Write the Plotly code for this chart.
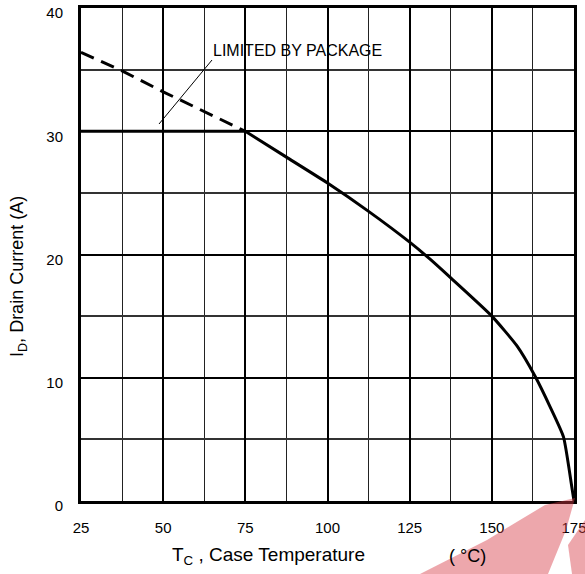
import plotly.graph_objects as go

# ---- data ----
tc_solid = [75, 87.5, 100, 112.5, 125, 131.3, 137.5, 150, 157.6, 163.2, 167.8, 171.8, 174.3, 175]
id_solid = [30.0, 27.9, 25.8, 23.5, 21.0, 19.6, 18.1, 15.0, 12.6, 10.1, 7.6, 5.2, 1.2, 0.0]

tc_dash = [25, 37.5, 50, 62.5, 75]
id_dash = [36.4, 34.9, 33.2, 31.6, 30.0]

tc_pkg = [25, 75]
id_pkg = [30, 30]

x_ticks = [25, 50, 75, 100, 125, 150, 175]
y_ticks = [0, 10, 20, 30, 40]

FONT = "Liberation Sans, Arial, sans-serif"

W, H = 585, 574
L, R, T, B = 81, 11, 8, 73
PW, PH = W - L - R, H - T - B


def px(xp):
    return (xp - L) / PW


def py(yp):
    return (H - B - yp) / PH


fig = go.Figure()

fig.add_trace(go.Scatter(x=tc_dash, y=id_dash, mode="lines",
                         line=dict(color="black", width=3, dash="14px,8px"),
                         hoverinfo="skip", showlegend=False))
fig.add_trace(go.Scatter(x=tc_pkg, y=id_pkg, mode="lines",
                         line=dict(color="black", width=3),
                         hoverinfo="skip", showlegend=False))
fig.add_trace(go.Scatter(x=tc_solid, y=id_solid, mode="lines",
                         line=dict(color="black", width=3, shape="spline", smoothing=0.5),
                         hoverinfo="skip", showlegend=False))

axis_common = dict(showline=True, linecolor="black", linewidth=3, mirror=True,
                   ticks="", zeroline=False, showgrid=True, gridcolor="black",
                   ticklabeloverflow="allow", automargin=False,
                   tickfont=dict(family=FONT, size=15, color="black"))

fig.update_xaxes(range=[25, 175], tickvals=x_ticks, gridwidth=2,
                 minor=dict(dtick=12.5, tick0=25, showgrid=True, gridcolor="#222", gridwidth=1.3),
                 ticklabelstandoff=11, **axis_common)
fig.update_yaxes(range=[0, 40], tickvals=y_ticks, gridwidth=1.8,
                 minor=dict(dtick=5, tick0=0, showgrid=True, gridcolor="#333", gridwidth=1.6),
                 ticklabelstandoff=12, ticklabelshift=5, **axis_common)

shapes = []
# white box behind the label
shapes.append(dict(type="rect", xref="paper", yref="paper",
                   x0=px(207), x1=px(410), y0=py(60), y1=py(33),
                   fillcolor="white", line=dict(width=0), layer="between"))
# leader line
shapes.append(dict(type="line", xref="paper", yref="paper",
                   x0=px(212), y0=py(60), x1=px(159), y1=py(124),
                   line=dict(color="black", width=1)))
# watermark approximation
wm1 = [(420, 574), (487, 540), (520, 520), (545, 505), (575, 498), (566, 530), (548, 574)]
wm2 = [(568, 545), (585, 520), (585, 574), (572, 574)]
for poly in (wm1, wm2):
    path = "M " + " L ".join(f"{px(a)},{py(b)}" for a, b in poly) + " Z"
    shapes.append(dict(type="path", xref="paper", yref="paper", path=path,
                       fillcolor="rgba(215,60,70,0.45)", line=dict(width=0), layer="above"))

annotations = [
    dict(text="LIMITED BY PACKAGE", xref="paper", yref="paper", x=px(211), y=py(50),
         xanchor="left", yanchor="middle", showarrow=False,
         font=dict(family=FONT, size=16, color="black")),
    dict(text="I<sub>D</sub>, Drain Current (A)", xref="paper", yref="paper",
         x=px(18), y=py(277), xanchor="center", yanchor="middle", textangle=-90,
         showarrow=False, font=dict(family=FONT, size=18, color="black")),
    dict(text="T<sub>C</sub> , Case Temperature", xref="paper", yref="paper",
         x=px(268), y=py(556), xanchor="center", yanchor="middle",
         showarrow=False, font=dict(family=FONT, size=19, color="black")),
    dict(text="( °C)", xref="paper", yref="paper",
         x=px(467), y=py(556), xanchor="center", yanchor="middle",
         showarrow=False, font=dict(family=FONT, size=18, color="black")),
]

fig.update_layout(width=W, height=H, margin=dict(l=L, r=R, t=T, b=B, autoexpand=False),
                  paper_bgcolor="white", plot_bgcolor="white",
                  shapes=shapes, annotations=annotations, showlegend=False)

fig.write_html("out.html", config={"displayModeBar": False},
               post_script="document.body.style.margin='0';document.body.style.overflow='hidden';")
